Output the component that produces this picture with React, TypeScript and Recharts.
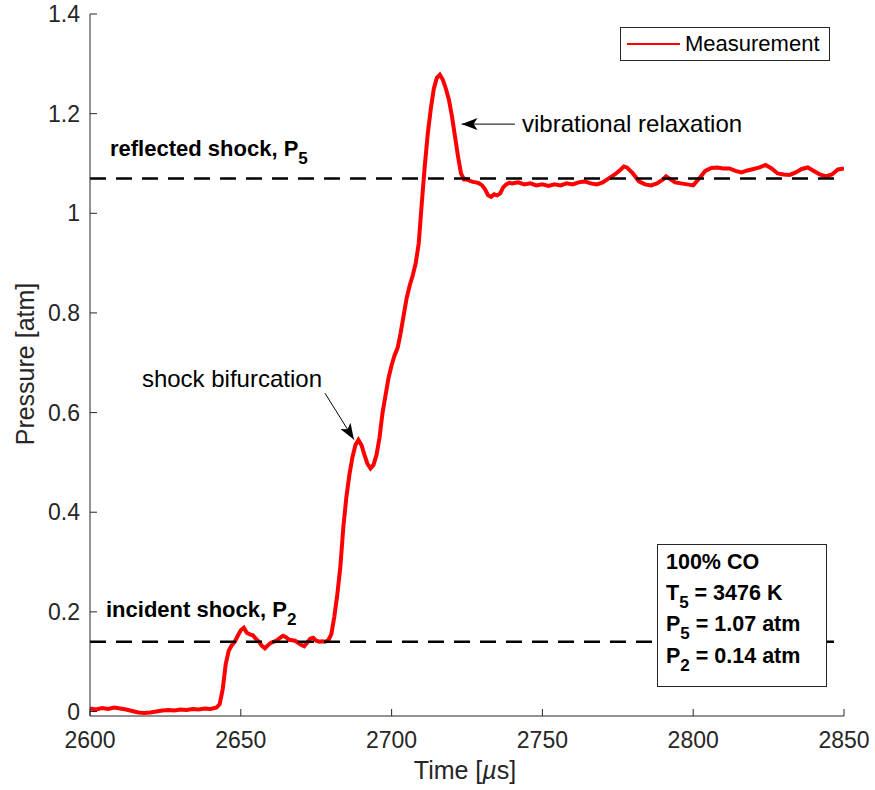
import {
  LineChart,
  Line,
  XAxis,
  YAxis,
  ReferenceLine,
  Legend,
} from 'recharts';

// time in microseconds, pressure in atm
const times = [
  2600, 2602, 2604, 2606, 2608, 2610, 2612, 2614, 2616, 2618, 2620, 2622, 2624, 2626, 2628,
  2630, 2632, 2634, 2636, 2638, 2640, 2642, 2643, 2644, 2645, 2646, 2647, 2648, 2649, 2650,
  2651, 2652, 2653, 2654, 2655, 2656, 2657, 2658, 2659, 2660, 2661, 2662, 2663, 2664, 2665,
  2666, 2667, 2668, 2669, 2670, 2671, 2672, 2673, 2674, 2675, 2676, 2677, 2678, 2679, 2680,
  2681, 2682, 2683, 2684, 2685, 2686, 2687, 2688, 2689, 2690, 2691, 2692, 2693, 2694, 2695,
  2696, 2697, 2698, 2699, 2700, 2701, 2702, 2703, 2704, 2705, 2706, 2707, 2708, 2709, 2710,
  2711, 2712, 2713, 2714, 2715, 2716, 2717, 2718, 2719, 2720, 2721, 2722, 2723, 2724, 2725,
  2726, 2727, 2728, 2729, 2730, 2731, 2732, 2733, 2734, 2735, 2736, 2737, 2738, 2739, 2740,
  2742, 2744, 2746, 2748, 2750, 2752, 2754, 2756, 2758, 2760, 2762, 2764, 2766, 2768, 2770,
  2772, 2774, 2776, 2777, 2778, 2780, 2782, 2784, 2786, 2788, 2790, 2791, 2792, 2794, 2796,
  2798, 2800, 2802, 2804, 2806, 2808, 2810, 2812, 2814, 2816, 2818, 2820, 2822, 2824, 2826,
  2828, 2830, 2832, 2834, 2836, 2838, 2840, 2842, 2844, 2846, 2848, 2850,
];

const pressures = [
  0.006, 0.004, 0.007, 0.005, 0.008, 0.006, 0.004, 0.001, -0.002, -0.003, -0.002, 0.0, 0.002, 0.003, 0.002,
  0.004, 0.003, 0.005, 0.004, 0.006, 0.005, 0.008, 0.015, 0.045, 0.095, 0.122, 0.133, 0.14, 0.152, 0.163,
  0.168, 0.158, 0.155, 0.153, 0.146, 0.14, 0.132, 0.127, 0.133, 0.138, 0.14, 0.143, 0.148, 0.152, 0.149,
  0.144, 0.143, 0.142, 0.138, 0.134, 0.131, 0.138, 0.146, 0.148, 0.142, 0.14, 0.141, 0.14, 0.143, 0.155,
  0.19, 0.235, 0.29, 0.37, 0.43, 0.475, 0.51, 0.535, 0.545, 0.535, 0.515, 0.497, 0.488, 0.495, 0.515,
  0.55, 0.6, 0.635, 0.67, 0.695, 0.715, 0.73, 0.76, 0.795, 0.83, 0.855, 0.875, 0.9, 0.94, 1.02,
  1.095, 1.16, 1.21, 1.25, 1.272, 1.278, 1.268, 1.25, 1.228, 1.195, 1.155, 1.115, 1.08, 1.068, 1.068,
  1.065, 1.063, 1.062, 1.06, 1.056, 1.048, 1.036, 1.033, 1.038, 1.036, 1.04, 1.052, 1.058, 1.061, 1.06,
  1.062, 1.058, 1.06, 1.056, 1.058, 1.055, 1.058, 1.056, 1.06, 1.058, 1.062, 1.064, 1.06, 1.058, 1.062,
  1.07, 1.078, 1.088, 1.094, 1.092, 1.08, 1.064, 1.058, 1.056, 1.06, 1.068, 1.074, 1.07, 1.062, 1.06,
  1.058, 1.056, 1.07, 1.085, 1.091, 1.092, 1.09, 1.09, 1.085, 1.082, 1.086, 1.089, 1.092, 1.097, 1.09,
  1.08, 1.078, 1.077, 1.082, 1.089, 1.092, 1.085, 1.078, 1.074, 1.078, 1.088, 1.09,
];

const xTicks = [2600, 2650, 2700, 2750, 2800, 2850];
const yTicks = [0, 0.2, 0.4, 0.6, 0.8, 1, 1.2, 1.4];

const P5 = 1.07;
const P2 = 0.14;

const infoLines = [
  { main: '100% CO', sub: '', rest: '' },
  { main: 'T', sub: '5', rest: ' = 3476 K' },
  { main: 'P', sub: '5', rest: ' = 1.07 atm' },
  { main: 'P', sub: '2', rest: ' = 0.14 atm' },
];

const data = times.map((t, i) => ({ t, p: pressures[i] }));

const FONT = '"Liberation Sans", Arial, Helvetica, sans-serif';
const AXIS = '#262626';

const arrowLine = (id: string) => (props: any) => (
  <line
    x1={props.x1}
    y1={props.y1}
    x2={props.x2}
    y2={props.y2}
    stroke="#000"
    strokeWidth={1}
    markerEnd={`url(#${id})`}
  />
);

const renderLegend = () => (
  <div
    style={{
      width: 210,
      height: 34,
      boxSizing: 'border-box',
      border: `1px solid ${AXIS}`,
      background: '#fff',
      display: 'flex',
      alignItems: 'center',
      fontFamily: FONT,
      fontSize: 22,
      color: '#000',
    }}
  >
    <svg width={64} height={10} style={{ display: 'block' }}>
      <line x1={6} x2={59} y1={5} y2={5} stroke="#ff0000" strokeWidth={2} />
    </svg>
    <span>Measurement</span>
  </div>
);

export default function App() {
  return (
    <div style={{ position: 'absolute', left: 0, top: 0, width: 875, height: 790, background: '#fff' }}>
      <LineChart
        width={875}
        height={790}
        data={data}
        margin={{ top: 14, right: 31, bottom: 0, left: 0 }}
      >
        <defs>
          <marker id="headA" viewBox="0 0 16 12" refX={16} refY={6} markerWidth={16} markerHeight={12} markerUnits="userSpaceOnUse" orient="auto">
            <path d="M0,0 L16,6 L0,12 L4,6 Z" fill="#000" />
          </marker>
        </defs>

        <XAxis
          xAxisId="bottom"
          dataKey="t"
          type="number"
          domain={[2600, 2850]}
          ticks={xTicks}
          height={74}
          tickSize={-7}
          tickMargin={23}
          stroke={AXIS}
          tick={{ fill: AXIS, fontSize: 23, fontFamily: FONT }}
          allowDataOverflow
        />
        <XAxis
          xAxisId="top"
          dataKey="t"
          type="number"
          orientation="top"
          domain={[2600, 2850]}
          ticks={xTicks}
          height={0}
          tickSize={-7}
          tick={false}
          stroke={AXIS}
          allowDataOverflow
        />
        <YAxis
          yAxisId="left"
          type="number"
          domain={[-0.009, 1.4]}
          ticks={yTicks}
          width={90}
          tickSize={-7}
          tickMargin={17}
          stroke={AXIS}
          tick={{ fill: AXIS, fontSize: 23, fontFamily: FONT }}
          allowDataOverflow
        />
        <YAxis
          yAxisId="right"
          orientation="right"
          type="number"
          domain={[-0.009, 1.4]}
          ticks={yTicks}
          width={0}
          tickSize={-7}
          tick={false}
          stroke={AXIS}
          allowDataOverflow
        />

        <Line
          xAxisId="bottom"
          yAxisId="left"
          type="linear"
          dataKey="p"
          stroke="#ff0000"
          strokeWidth={4}
          dot={false}
          isAnimationActive={false}
        />

        <ReferenceLine xAxisId="bottom" yAxisId="left" y={P5} stroke="#000" strokeWidth={2.5} strokeDasharray="16 10" />
        <ReferenceLine xAxisId="bottom" yAxisId="left" y={P2} stroke="#000" strokeWidth={2.5} strokeDasharray="16 10" />

        <ReferenceLine
          xAxisId="bottom"
          yAxisId="left"
          segment={[{ x: 2677.9, y: 0.639 }, { x: 2687.5, y: 0.546 }]}
          shape={arrowLine('headA')}
        />
        <ReferenceLine
          xAxisId="bottom"
          yAxisId="left"
          segment={[{ x: 2740.9, y: 1.179 }, { x: 2723.2, y: 1.179 }]}
          shape={arrowLine('headA')}
        />

        <Legend
          layout="vertical"
          align="center"
          verticalAlign="middle"
          content={renderLegend}
          wrapperStyle={{ left: 620, top: 27, width: 210 }}
        />

        <g fontFamily={FONT} fill="#000">
          <text x={110} y={156} fontSize={22} fontWeight="bold">
            reflected shock, P<tspan fontSize={17} dy={8}>5</tspan>
          </text>
          <text x={106} y={617} fontSize={22} fontWeight="bold">
            incident shock, P<tspan fontSize={17} dy={8}>2</tspan>
          </text>
          <text x={322} y={387} fontSize={24} textAnchor="end">shock bifurcation</text>
          <text x={522} y={132} fontSize={24}>vibrational relaxation</text>

          <text x={25} y={364} fontSize={25} fill={AXIS} textAnchor="middle" transform="rotate(-90 25 364)" dy={9}>
            Pressure [atm]
          </text>
          <text x={465} y={779} fontSize={25} fill={AXIS} textAnchor="middle">
            Time [<tspan fontStyle="italic">µ</tspan>s]
          </text>
        </g>
      </LineChart>

      {/* condition box sits above the dashed P2 line */}
      <svg
        width={875}
        height={790}
        style={{ position: 'absolute', left: 0, top: 0, pointerEvents: 'none' }}
      >
        <g fontFamily={FONT} fill="#000">
          <rect x={657.5} y={544.5} width={169} height={142} fill="#fff" stroke={AXIS} strokeWidth={1} />
          {infoLines.map((l, i) => (
            <text key={i} x={666} y={569 + i * 31.2} fontSize={21.5} fontWeight="bold">
              {l.main}
              {l.sub && <tspan fontSize={17} dy={8}>{l.sub}</tspan>}
              {l.rest && <tspan dy={l.sub ? -8 : 0}>{l.rest}</tspan>}
            </text>
          ))}
        </g>
      </svg>
    </div>
  );
}
